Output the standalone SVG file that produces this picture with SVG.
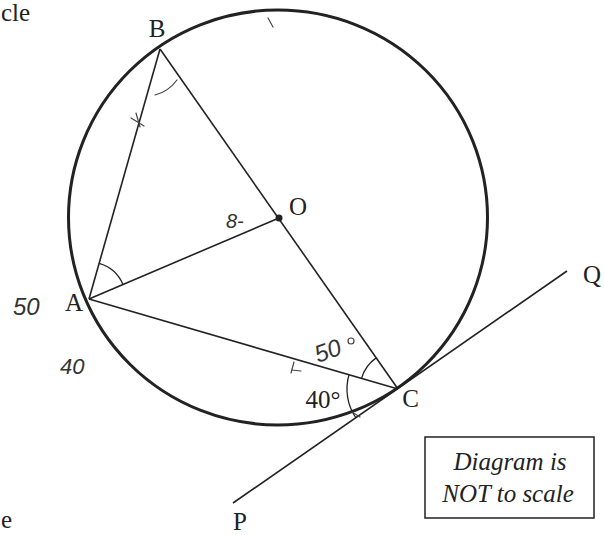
<svg xmlns="http://www.w3.org/2000/svg" width="604" height="535" viewBox="0 0 604 535">
  <style>
    .lbl { font-family: "Liberation Serif", "Times New Roman", serif; font-size: 25px; fill: #222; }
    .box { font-family: "Liberation Serif", "Times New Roman", serif; font-style: italic; font-size: 25px; fill: #222; }
    .hand { font-family: "Liberation Sans", Arial, sans-serif; font-style: italic; fill: #333; }
    .seg { stroke: #222; stroke-width: 1.6; fill: none; }
    .arc { stroke: #222; stroke-width: 1.3; fill: none; }
    .mark { stroke: #444; stroke-width: 1.2; fill: none; stroke-linecap: round; }
  </style>
  <rect width="604" height="535" fill="#fff"/>

  <text class="lbl" x="1" y="21" font-size="22">cle</text>
  <text class="lbl" x="1" y="528" font-size="22">e</text>

  <g id="circle">
    <ellipse cx="278" cy="217.5" rx="209.5" ry="207.5" fill="none" stroke="#222" stroke-width="3"/>
  </g>

  <g id="connectors">
    <line class="seg" x1="89" y1="299" x2="160" y2="49"/>
    <line class="seg" x1="160" y1="49" x2="398" y2="389"/>
    <line class="seg" x1="89" y1="299" x2="279" y2="218"/>
    <line class="seg" x1="89" y1="299" x2="398" y2="389"/>
    <line class="seg" x1="233" y1="503" x2="567" y2="271"/>
  </g>

  <g id="angles">
    <path class="arc" d="M 99.1 263.4 A 37 37 0 0 1 123 284.5"/>
    <path class="arc" d="M 376.2 357.9 A 38 38 0 0 0 361.5 378.4"/>
    <path class="arc" d="M 349 374.7 A 51 51 0 0 0 356 418"/>
  </g>

  <g id="B"><text class="lbl" x="157" y="37" text-anchor="middle">B</text></g>
  <g id="O">
    <circle cx="279" cy="218" r="3.5" fill="#222"/>
    <text class="lbl" x="298" y="215" text-anchor="middle">O</text>
  </g>
  <g id="A"><text class="lbl" x="74" y="311" text-anchor="middle">A</text></g>
  <g id="C"><text class="lbl" x="410.5" y="407" text-anchor="middle">C</text></g>
  <g id="Q"><text class="lbl" x="592" y="283" text-anchor="middle">Q</text></g>
  <g id="P"><text class="lbl" x="240" y="530" text-anchor="middle">P</text></g>
  <g id="angle40"><text class="lbl" x="323" y="408" text-anchor="middle">40°</text></g>

  <g id="note">
    <rect x="425" y="437" width="169" height="81" fill="#fff" stroke="#222" stroke-width="1.5"/>
    <text class="box" x="510" y="470" text-anchor="middle">Diagram is</text>
    <text class="box" x="508" y="502" text-anchor="middle">NOT to scale</text>
  </g>

  <g id="handwriting">
    <text class="hand" x="13" y="315" font-size="24">50</text>
    <text class="hand" x="60" y="374" font-size="22">40</text>
    <text class="hand" x="226" y="228" font-size="20">8-</text>
    <text class="hand" x="318" y="363" font-size="24" transform="rotate(-20 318 363)">50</text>
    <circle cx="351" cy="341" r="3" class="mark"/>
    <path class="mark" d="M 131 118 L 144 126 M 136 113 L 140 127"/>
    <path class="mark" d="M 155 95 Q 168 92 177 80"/>
    <path class="mark" d="M 268 18 L 273 27"/>
    <path class="mark" d="M 294 362 L 291 373 M 292 370 L 301 371"/>
    <path class="mark" d="M 352 412 L 360 417"/>
  </g>
</svg>
